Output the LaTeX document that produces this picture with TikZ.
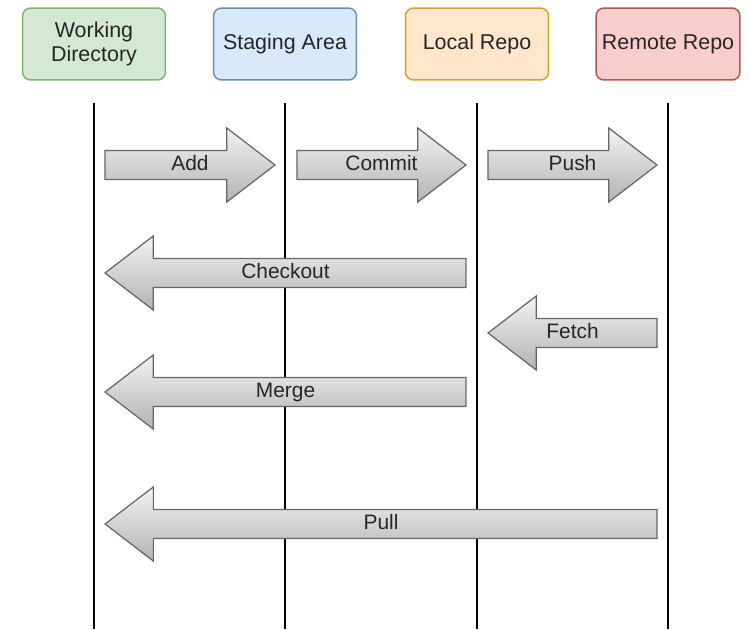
\documentclass[tikz,border=0pt]{standalone}
\usepackage{fontspec}
\setmainfont{Liberation Sans}
\usetikzlibrary{shapes.arrows}

\definecolor{wdfill}{HTML}{D5E8D4}\definecolor{wddraw}{HTML}{82B366}
\definecolor{safill}{HTML}{DAE8FC}\definecolor{sadraw}{HTML}{6C8EBF}
\definecolor{lrfill}{HTML}{FFE6CC}\definecolor{lrdraw}{HTML}{D6A31E}
\definecolor{rrfill}{HTML}{F8CECC}\definecolor{rrdraw}{HTML}{B85450}

\tikzset{
  stage/.style={draw, rounded corners=0.16cm, line width=0.85pt,
    minimum width=2.86cm, minimum height=1.44cm, align=center,
    text=black!85, font=\fontsize{12.2}{13.6}\selectfont},
  lifeline/.style={black, line width=1.2pt},
  gitcmd/.style={single arrow, draw=black!60, line width=0.7pt,
    top color=black!5, bottom color=black!30,
    single arrow head extend=0.45cm, single arrow tip angle=75,
    single arrow head indent=0pt, inner xsep=0pt, inner ysep=2.45pt,
    text height=8.5pt, text depth=2.5pt, text=black!85,
    font=\fontsize{11.9}{13.6}\selectfont},
  % the shape sits off its text, so move both back
  cmdright/.style={gitcmd, xshift=-0.19cm,
    execute at begin node={\hspace*{0.38cm}}},
  cmdleft/.style={gitcmd, shape border rotate=180, xshift=0.19cm,
    execute at end node={\hspace*{0.38cm}}}
}

\begin{document}
\begin{tikzpicture}[x=0.02cm,y=-0.02cm]
  \useasboundingbox (0,0) rectangle (750,629);
  % Areas on top
  \node[stage,fill=wdfill,draw=wddraw] (wd) at (94,44)  {Working\\Directory};
  \node[stage,fill=safill,draw=sadraw] (sa) at (285,44) {Staging Area};
  \node[stage,fill=lrfill,draw=lrdraw] (lr) at (477,44) {Local Repo};
  \node[stage,fill=rrfill,draw=rrdraw] (rr) at (668,44) {Remote Repo};
  % Lifelines
  \coordinate (top) at (0,103);
  \coordinate (bot) at (0,629);
  \foreach \s in {wd,sa,lr,rr}
    \draw[lifeline] (\s |- top) -- (\s |- bot);
  % Commands
  \node[cmdright,minimum height=3.40cm] (add)      at (190,165)   {Add};
  \node[cmdright,minimum height=3.38cm] (commit)   at (381.5,165) {Commit};
  \node[cmdright,minimum height=3.38cm] (push)     at (572.5,165) {Push};
  \node[cmdleft, minimum height=7.22cm] (checkout) at (285.5,273) {Checkout};
  \node[cmdleft, minimum height=3.38cm] (fetch)    at (572.5,333) {Fetch};
  \node[cmdleft, minimum height=7.22cm] (merge)    at (285.5,392) {Merge};
  \node[cmdleft, minimum height=11.04cm] (pull)    at (381,524)   {Pull};
\end{tikzpicture}
\end{document}
